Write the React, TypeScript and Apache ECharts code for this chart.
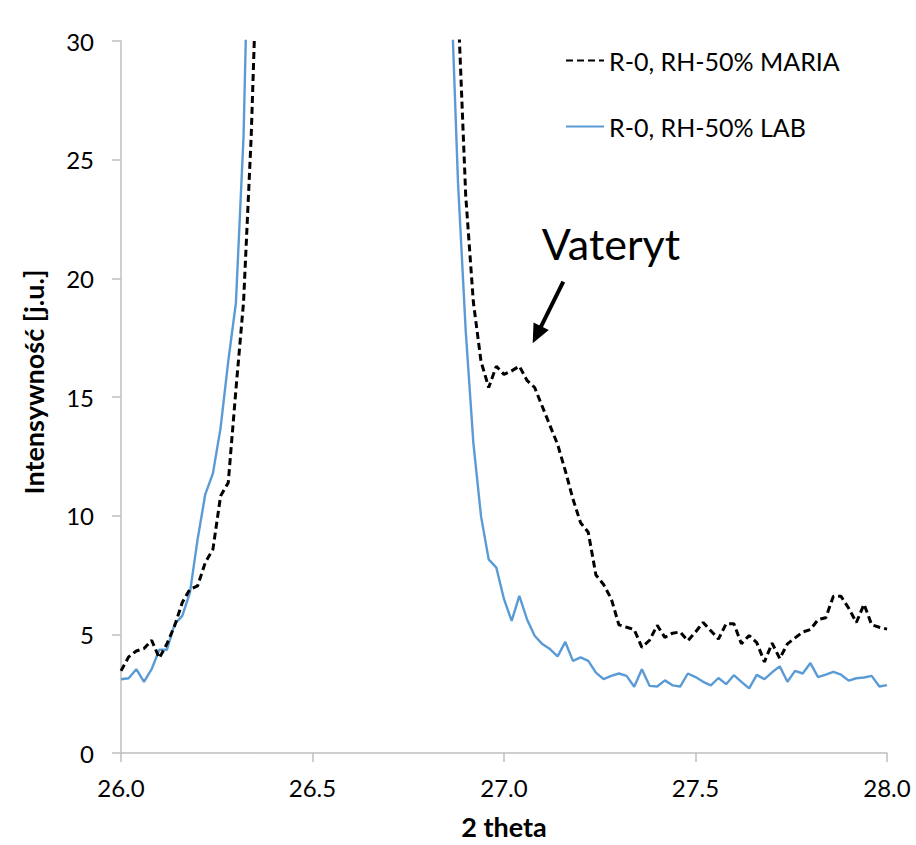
import React, { useEffect, useRef } from 'react';
import * as echarts from 'echarts';

const FONT = "Lato, 'Open Sans', sans-serif";

const twoTheta = [
  26.00, 26.02, 26.04, 26.06, 26.08, 26.10, 26.12, 26.14, 26.16, 26.18,
  26.20, 26.22, 26.24, 26.26, 26.28, 26.30, 26.32, 26.34, 26.36, 26.38,
  26.40, 26.42, 26.44, 26.46, 26.48, 26.50, 26.52, 26.54, 26.56, 26.58,
  26.60, 26.62, 26.64, 26.66, 26.68, 26.70, 26.72, 26.74, 26.76, 26.78,
  26.80, 26.82, 26.84, 26.86, 26.88, 26.90, 26.92, 26.94, 26.96, 26.98,
  27.00, 27.02, 27.04, 27.06, 27.08, 27.10, 27.12, 27.14, 27.16, 27.18,
  27.20, 27.22, 27.24, 27.26, 27.28, 27.30, 27.32, 27.34, 27.36, 27.38,
  27.40, 27.42, 27.44, 27.46, 27.48, 27.50, 27.52, 27.54, 27.56, 27.58,
  27.60, 27.62, 27.64, 27.66, 27.68, 27.70, 27.72, 27.74, 27.76, 27.78,
  27.80, 27.82, 27.84, 27.86, 27.88, 27.90, 27.92, 27.94, 27.96, 27.98,
  28.00,
];

const mariaValues = [
  3.46, 4.05, 4.30, 4.40, 4.75, 4.00, 4.60, 5.36, 6.34, 6.90,
  7.04, 8.02, 8.58, 10.83, 11.39, 15.3, 19.0, 26.0, 36, 52,
  80, 130, 210, 330, 500, 700, 900, 1100, 1250, 1350,
  1400, 1350, 1200, 1000, 780, 570, 400, 270, 180, 120,
  82, 58, 44, 36, 31.5, 23.5, 19.0, 16.5, 15.4, 16.3,
  15.95, 16.1, 16.3, 15.7, 15.4, 14.6, 13.8, 13.0, 11.9, 10.7,
  9.7, 9.3, 7.5, 7.1, 6.5, 5.4, 5.3, 5.2, 4.45, 4.75,
  5.38, 4.87, 5.05, 5.1, 4.73, 5.1, 5.5, 5.15, 4.8, 5.45,
  5.45, 4.6, 4.95, 4.65, 3.84, 4.63, 3.98, 4.6, 4.85, 5.1,
  5.2, 5.62, 5.7, 6.6, 6.6, 6.1, 5.5, 6.27, 5.4, 5.3,
  5.22,
];

const labValues = [
  3.11, 3.15, 3.53, 3.00, 3.53, 4.35, 4.35, 5.43, 5.78, 6.76,
  9.00, 10.9, 11.78, 13.7, 16.5, 18.96, 26, 40, 60, 95,
  150, 240, 380, 560, 780, 950, 1150, 1300, 1450, 1550,
  1600, 1550, 1400, 1200, 950, 700, 480, 320, 200, 130,
  85, 58, 42, 33, 24, 17.8, 13.07, 9.98, 8.16, 7.81,
  6.48, 5.57, 6.62, 5.64, 4.94, 4.59, 4.38, 4.07, 4.68, 3.88,
  4.03, 3.88, 3.39, 3.11, 3.25, 3.35, 3.25, 2.79, 3.53, 2.83,
  2.80, 3.06, 2.85, 2.80, 3.35, 3.2, 3.0, 2.85, 3.16, 2.90,
  3.28, 3.0, 2.72, 3.29, 3.11, 3.40, 3.65, 3.0, 3.46, 3.35,
  3.79, 3.2, 3.3, 3.42, 3.3, 3.05, 3.15, 3.18, 3.25, 2.8,
  2.86,
];

const seriesNames = ['R-0, RH-50% MARIA', 'R-0, RH-50% LAB'];
const xTitle = '2 theta';
const yTitle = 'Intensywność [j.u.]';
const annotation = 'Vateryt';

const toPairs = (ys: number[]) => ys.map((y, i) => [twoTheta[i], y]);

export default function App() {
  const ref = useRef<HTMLDivElement>(null);
  useEffect(() => {
    const chart = echarts.init(ref.current!, null, { renderer: 'svg' });
    // arrow geometry (annotation)
    const sx = 563.3, sy = 281.7, tx = 532.7, ty = 343.3;
    const dx = tx - sx, dy = ty - sy;
    const len = Math.sqrt(dx * dx + dy * dy);
    const ux = dx / len, uy = dy / len;
    const hl = 19, hw = 8.5;
    const bx = tx - hl * ux, by = ty - hl * uy;
    const px = -uy, py = ux;
    chart.setOption({
      animation: false,
      backgroundColor: '#ffffff',
      grid: { left: 121, right: 29, top: 41, bottom: 91, containLabel: false },
      legend: {
        data: [seriesNames[0], seriesNames[1]],
        orient: 'vertical',
        left: 565,
        top: 48,
        padding: 0,
        itemWidth: 38,
        itemHeight: 14,
        itemGap: 41,
        itemStyle: { opacity: 0 },
        textStyle: { fontSize: 25, color: '#000', fontFamily: FONT },
      },
      xAxis: {
        type: 'value',
        min: 26,
        max: 28,
        interval: 0.5,
        name: xTitle,
        nameLocation: 'middle',
        nameGap: 60,
        nameTextStyle: { fontSize: 27, fontWeight: 'bold', color: '#000', fontFamily: FONT },
        axisLine: { show: true, lineStyle: { color: '#bfbfbf', width: 1.5 } },
        axisTick: { show: true, inside: false, length: 9, lineStyle: { color: '#bfbfbf', width: 1.5 } },
        axisLabel: {
          margin: 22,
          fontSize: 24,
          color: '#000',
          fontFamily: FONT,
          formatter: (v: number) => v.toFixed(1),
        },
        splitLine: { show: false },
      },
      yAxis: {
        type: 'value',
        min: 0,
        max: 30,
        interval: 5,
        axisLine: { show: true, lineStyle: { color: '#bfbfbf', width: 1.5 } },
        axisTick: { show: true, inside: false, length: 9, lineStyle: { color: '#bfbfbf', width: 1.5 } },
        axisLabel: { margin: 27, fontSize: 24, color: '#000', fontFamily: FONT },
        splitLine: { show: false },
      },
      graphic: [
        {
          type: 'text',
          x: 33,
          y: 382,
          rotation: Math.PI / 2,
          style: {
            text: yTitle,
            fontSize: 27,
            fontWeight: 'bold',
            fontFamily: FONT,
            fill: '#000',
            align: 'center',
            verticalAlign: 'middle',
          },
        },
        {
          type: 'text',
          x: 611,
          y: 243,
          style: {
            text: annotation,
            fontSize: 43,
            fontFamily: FONT,
            fill: '#000',
            align: 'center',
            verticalAlign: 'middle',
          },
        },
        {
          type: 'line',
          shape: { x1: sx, y1: sy, x2: bx + 2 * ux, y2: by + 2 * uy },
          style: { stroke: '#000', lineWidth: 4 },
        },
        {
          type: 'polygon',
          shape: {
            points: [
              [tx, ty],
              [bx + hw * px, by + hw * py],
              [bx - hw * px, by - hw * py],
            ],
          },
          style: { fill: '#000' },
        },
      ],
      series: [
        {
          name: seriesNames[1],
          type: 'line',
          data: toPairs(labValues),
          symbol: 'none',
          showSymbol: false,
          clip: true,
          lineStyle: { color: '#5b9bd5', width: 2.4 },
          itemStyle: { color: '#5b9bd5' },
          z: 2,
        },
        {
          name: seriesNames[0],
          type: 'line',
          data: toPairs(mariaValues),
          symbol: 'none',
          showSymbol: false,
          clip: true,
          lineStyle: { color: '#000', width: 3, type: [7, 4] },
          itemStyle: { color: '#000' },
          z: 3,
        },
      ],
    });
    return () => chart.dispose();
  }, []);
  return (
    <div
      ref={ref}
      style={{ position: 'fixed', left: 0, top: 0, width: 916, height: 845, background: '#fff' }}
    />
  );
}
